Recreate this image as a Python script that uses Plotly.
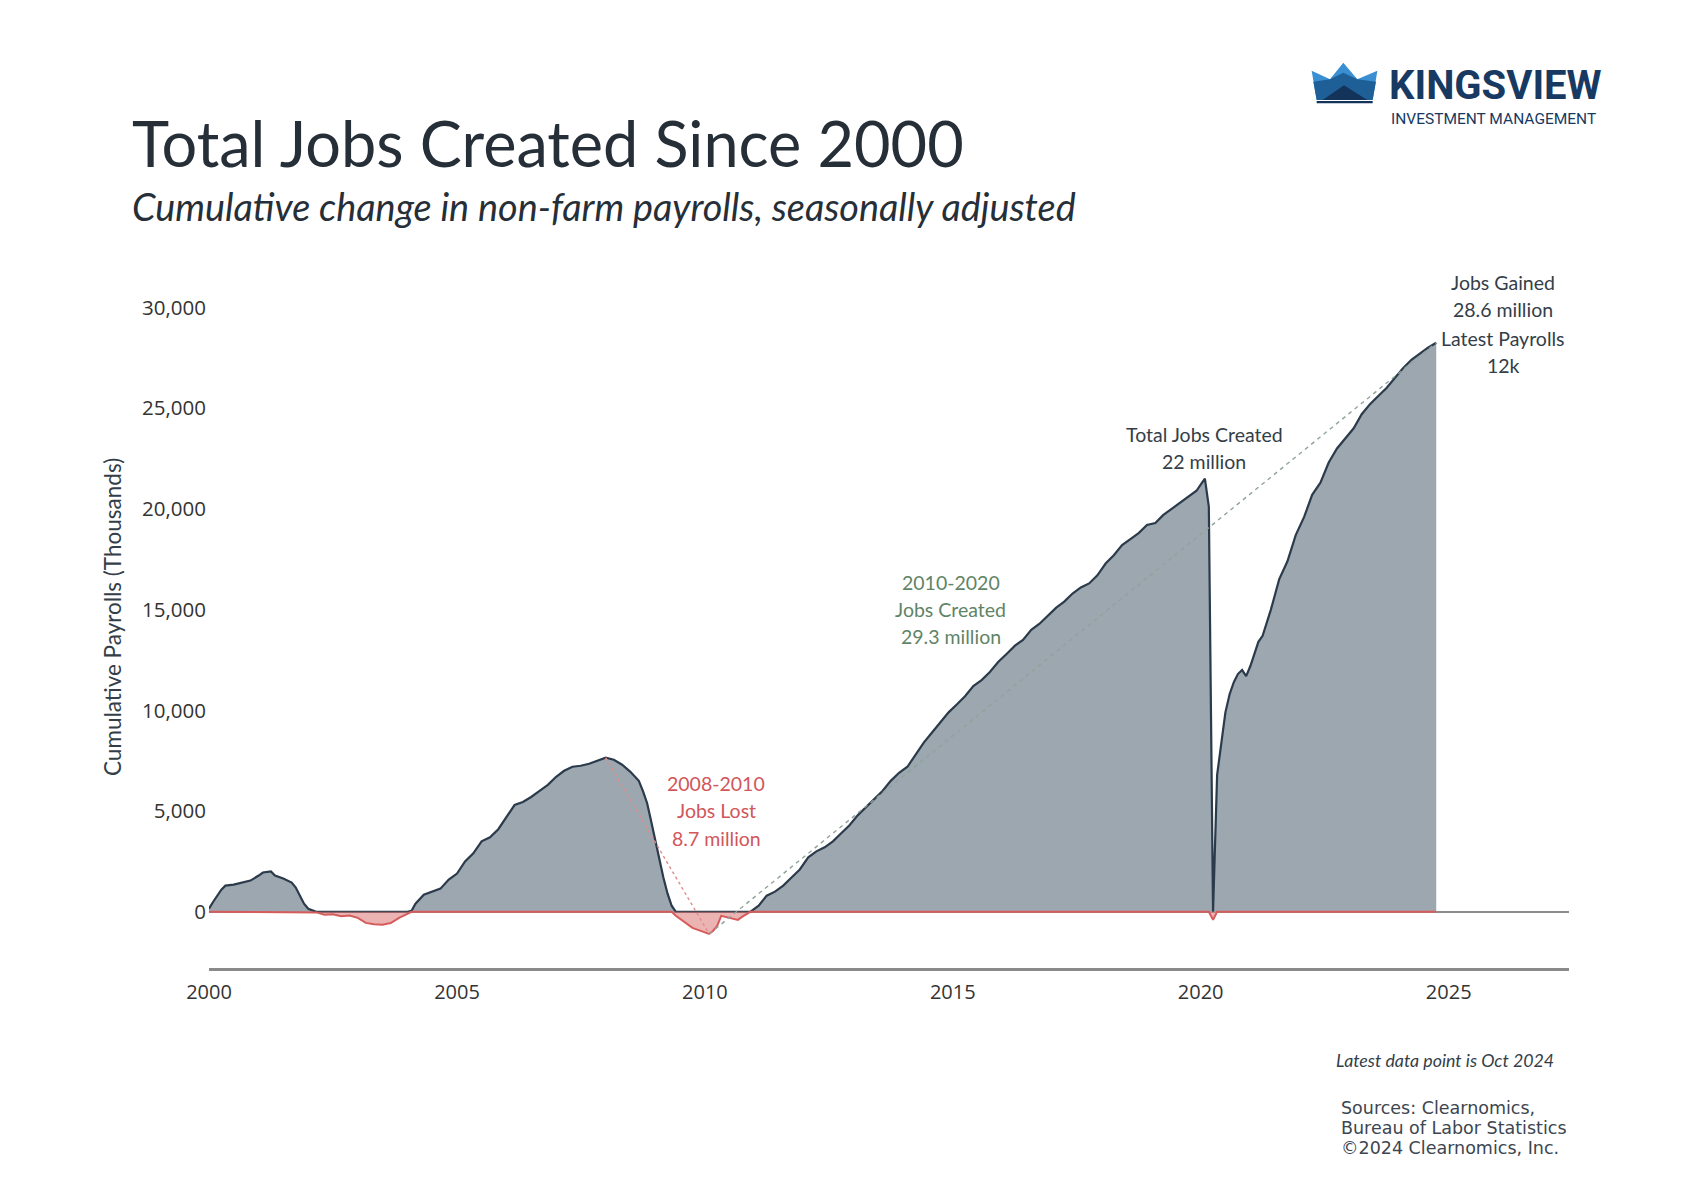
import plotly.graph_objects as go

# ---------------- data (cumulative change in non-farm payrolls, thousands) ----------------
dates = [
    "2000-01", "2000-02", "2000-04", "2000-05", "2000-07", "2000-09", "2000-11",
    "2001-01", "2001-02", "2001-04", "2001-05", "2001-07", "2001-09", "2001-10", "2001-11", "2001-12",
    "2002-01", "2002-03", "2002-05", "2002-07", "2002-09", "2002-11",
    "2003-01", "2003-03", "2003-05", "2003-07", "2003-09", "2003-11",
    "2004-01", "2004-02", "2004-03", "2004-05", "2004-07", "2004-09", "2004-11",
    "2005-01", "2005-03", "2005-05", "2005-07", "2005-09", "2005-11",
    "2006-01", "2006-03", "2006-05", "2006-07", "2006-09", "2006-11",
    "2007-01", "2007-03", "2007-05", "2007-07", "2007-09", "2007-11",
    "2008-01", "2008-03", "2008-05", "2008-07", "2008-09", "2008-10", "2008-11", "2008-12",
    "2009-01", "2009-02", "2009-03", "2009-04", "2009-05", "2009-06", "2009-08", "2009-10", "2009-12",
    "2010-02", "2010-03", "2010-04", "2010-05", "2010-06", "2010-07", "2010-09", "2010-10", "2010-11", "2010-12",
    "2011-02", "2011-04", "2011-06", "2011-08", "2011-10", "2011-12",
    "2012-02", "2012-04", "2012-06", "2012-08", "2012-10", "2012-12",
    "2013-02", "2013-04", "2013-06", "2013-08", "2013-10", "2013-12",
    "2014-02", "2014-04", "2014-06", "2014-08", "2014-10", "2014-12",
    "2015-02", "2015-04", "2015-06", "2015-08", "2015-10", "2015-12",
    "2016-02", "2016-04", "2016-06", "2016-08", "2016-10", "2016-12",
    "2017-02", "2017-04", "2017-06", "2017-08", "2017-10", "2017-12",
    "2018-02", "2018-04", "2018-06", "2018-08", "2018-10", "2018-12",
    "2019-02", "2019-04", "2019-06", "2019-08", "2019-10", "2019-12",
    "2020-01", "2020-02", "2020-03", "2020-04", "2020-05", "2020-06", "2020-07", "2020-08",
    "2020-09", "2020-10", "2020-11", "2020-12",
    "2021-01", "2021-03", "2021-04", "2021-06", "2021-08", "2021-10", "2021-12",
    "2022-02", "2022-04", "2022-06", "2022-08", "2022-10", "2022-12",
    "2023-02", "2023-04", "2023-06", "2023-08", "2023-10", "2023-12",
    "2024-02", "2024-04", "2024-06", "2024-08", "2024-10",
]
payrolls = [
    150, 500, 1100, 1300, 1350, 1450, 1550,
    1800, 1950, 2000, 1800, 1650, 1450, 1200, 800, 400,
    150, -30, -150, -120, -220, -180,
    -300, -550, -620, -640, -560, -300,
    -100, 50, 400, 850, 1000, 1150, 1600,
    1900, 2500, 2900, 3500, 3700, 4100,
    4700, 5300, 5450, 5700, 6000, 6300,
    6700, 7000, 7200, 7250, 7350, 7500,
    7650, 7550, 7300, 6950, 6500, 6000, 5400, 4500,
    3500, 2600, 1700, 900, 300, -200, -500, -800, -950,
    -1100, -950, -700, -200, -250, -300, -400, -250, -100, 0,
    300, 800, 1000, 1300, 1700, 2100,
    2700, 3000, 3200, 3500, 3900, 4300,
    4800, 5200, 5600, 6000, 6500, 6900,
    7200, 7800, 8400, 8900, 9400, 9900,
    10300, 10700, 11200, 11500, 11900, 12400,
    12800, 13200, 13500, 14000, 14300, 14700,
    15100, 15400, 15800, 16100, 16300, 16700,
    17300, 17700, 18200, 18500, 18800, 19200,
    19300, 19700, 20000, 20300, 20600, 20900,
    21200, 21500, 20100, -400, 6800, 8500, 9900, 10800,
    11400, 11800, 12000, 11700,
    12200, 13400, 13700, 15000, 16500, 17400, 18700,
    19600, 20700, 21300, 22300, 23000, 23500,
    24000, 24700, 25200, 25600, 26000, 26500,
    27000, 27400, 27700, 28000, 28250,
]

peak_2008 = "2008-01"
trough_2010 = "2010-02"

year_ticks = [2000, 2005, 2010, 2015, 2020, 2025]
y_ticks = [0, 5000, 10000, 15000, 20000, 25000, 30000]

# ---------------- helpers for layout positions (pixels -> paper) ----------------
W, H = 1704, 1200
L, R, T, B = 209, 1569, 280, 968


def px(x):
    return (x - L) / (R - L)


def py(y):
    return (B - y) / (B - T)


pos = [max(v, 0) for v in payrolls]
neg = [min(v, 0) for v in payrolls]

fig = go.Figure()
fig.add_trace(go.Scatter(
    x=dates, y=pos, mode="lines", fill="tozeroy",
    fillcolor="#9ca7b0", line=dict(color="#2b3b4b", width=2.2),
    hoverinfo="skip", showlegend=False,
))
fig.add_trace(go.Scatter(
    x=dates, y=neg, mode="lines", fill="tozeroy",
    fillcolor="rgba(224,128,128,0.6)", line=dict(color="#d65c5c", width=2),
    hoverinfo="skip", showlegend=False,
))

i_pk = dates.index(peak_2008)
i_tr = dates.index(trough_2010)
fig.add_trace(go.Scatter(
    x=[dates[i_pk], dates[i_tr]], y=[payrolls[i_pk], payrolls[i_tr]],
    mode="lines", line=dict(color="#e38c8c", width=1.4, dash="3px,3px"),
    hoverinfo="skip", showlegend=False,
))
fig.add_trace(go.Scatter(
    x=[dates[i_tr], dates[-1]], y=[payrolls[i_tr], payrolls[-1]],
    mode="lines", line=dict(color="#8fa39a", width=1.4, dash="4px,4px"),
    hoverinfo="skip", showlegend=False,
))

ann = []


def text(x, y, s, size, color, family="Lato", anchor="center", **kw):
    ann.append(dict(
        x=px(x), y=py(y), xref="paper", yref="paper", text=s, showarrow=False,
        xanchor=anchor, yanchor="middle",
        font=dict(family=family, size=size, color=color), **kw,
    ))


dark = "#343e48"
# title / subtitle
text(130, 142, "Total Jobs Created Since 2000", 63, "#262f38", anchor="left")
text(130, 207, "<i>Cumulative change in non-farm payrolls, seasonally adjusted</i>", 37.8, "#262f38", anchor="left")

# y-axis title
text(112, 617, "Cumulative Payrolls (Thousands)", 22.5, dark, textangle=-90)

# chart annotations
for yy, s in zip([282.5, 309.7, 338, 365], ["Jobs Gained", "28.6 million", "Latest Payrolls", "12k"]):
    text(1503, yy, s, 19.5, dark)
for yy, s in zip([434.7, 461.8], ["Total Jobs Created", "22 million"]):
    text(1204, yy, s, 19.5, dark)
for yy, s in zip([582.5, 609.6, 636.8], ["2010-2020", "Jobs Created", "29.3 million"]):
    text(951, yy, s, 19.5, "#5f8466")
for yy, s in zip([783.5, 810.7, 838.9], ["2008-2010", "Jobs Lost", "8.7 million"]):
    text(716, yy, s, 19.5, "#d1565a")

# footer
text(1445, 1060, "<i>Latest data point is Oct 2024</i>", 17.8, dark)
for yy, s in zip([1108, 1128, 1147.5], ["Sources: Clearnomics,", "Bureau of Labor Statistics", "\u00a92024 Clearnomics, Inc."]):
    text(1339, yy, s, 17.5, "#3c4650", family="DejaVu Sans", anchor="left")

# logo text
text(1387, 86, "<b>KINGSVIEW</b>", 40, "#183a62", family="Roboto", anchor="left")
text(1389, 119, "INVESTMENT MANAGEMENT", 15.5, "#183a62", family="Roboto", anchor="left")

# logo crown shapes (zoom-space coords -> pixels -> paper)


def crown_path(pts):
    s = ""
    for k, (zx, zy) in enumerate(pts):
        X = 1290 + zx / 3.0
        Y = 50 + zy / 3.0
        s += ("M" if k == 0 else "L") + f"{px(X):.5f},{py(Y):.5f} "
    return s + "Z"


shapes = []
crown_parts = [
    ([(65, 62), (120, 88), (160, 38), (202, 88), (262, 62), (248, 150), (80, 150)], "#3a8fd3"),
    ([(70, 95), (120, 88), (160, 68), (202, 88), (258, 95), (248, 150), (80, 150)], "#1f5f98"),
    ([(98, 150), (162, 106), (232, 150)], "#13335b"),
    ([(80, 153), (248, 153), (248, 160), (80, 160)], "#13335b"),
]
for pts, col in crown_parts:
    shapes.append(dict(type="path", xref="paper", yref="paper", path=crown_path(pts),
                       fillcolor=col, line=dict(width=0), layer="above"))

fig.update_layout(
    width=W, height=H,
    margin=dict(l=L, r=W - R, t=T, b=H - B, pad=0),
    paper_bgcolor="white", plot_bgcolor="white",
    annotations=ann, shapes=shapes,
    xaxis=dict(
        type="date", range=["2000-01-01", "2027-06-06"],
        tickvals=[f"{y}-01-01" for y in year_ticks], ticktext=[str(y) for y in year_ticks],
        showgrid=False, zeroline=False, showline=True, linecolor="#8a8a8a", linewidth=3,
        ticks="", tickfont=dict(family="Open Sans", size=20, color="#333"),
        ticklabelstandoff=4,
    ),
    yaxis=dict(
        range=[-2790, (B - T) * 49.64 - 2790],
        tickvals=y_ticks, ticktext=[f"{v:,}" for v in y_ticks],
        showgrid=False, zeroline=True, zerolinecolor="#8c8c8c", zerolinewidth=2,
        showline=False, ticks="", tickfont=dict(family="Open Sans", size=20.5, color="#333"),
        ticklabelstandoff=2,
    ),
)

fig.write_html("out.html", config={"displayModeBar": False})
